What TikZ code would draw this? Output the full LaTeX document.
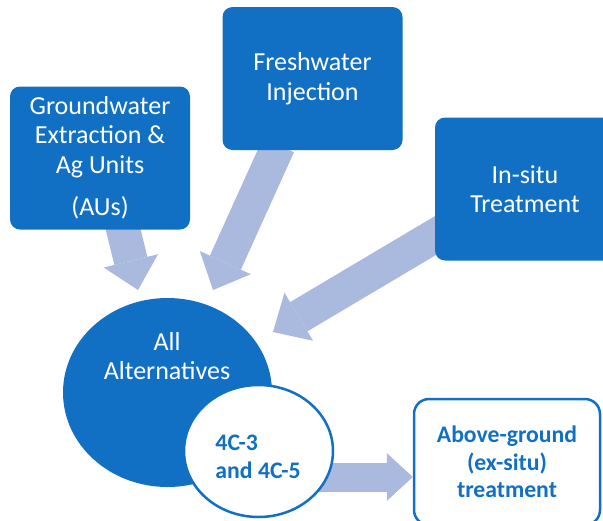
\documentclass[tikz,border=0pt]{standalone}
\usepackage{fontspec}
\setmainfont{Carlito}
\usetikzlibrary{arrows.meta, shapes.geometric, backgrounds}
\definecolor{boxblue}{RGB}{17,112,196}
\definecolor{flowblue}{RGB}{169,186,222}

\begin{document}
\begin{tikzpicture}[
        x=1pt, y=-1pt,
        box/.style={rectangle, rounded corners=10pt, fill=boxblue, text=white, align=center,
            minimum width=180pt, minimum height=143pt, font=\fontsize{26}{29.5}\selectfont},
        flow/.style={-{Triangle[length=30pt, width=56pt, line width=0pt]}, line width=34pt, draw=flowblue}
    ]

    \tikzset{
    outlined/.style={draw=boxblue, line width=2.5pt, fill=white, text=boxblue,
        font=\bfseries\fontsize{23.7}{27.5}\selectfont},
    smallflow/.style={-{Triangle[length=26pt, width=48pt, line width=0pt]}, line width=29pt, draw=flowblue}
}

    \useasboundingbox (0,0) rectangle (603,520);

    % the three sources
    \node[box] (gw) at (100,158) {Groundwater\\Extraction \&\\Ag Units\\[13pt](AUs)};
    \node[box] (fw) at (312.5,78.5) {Freshwater\\Injection};
    \node[box] (is) at (525,189) {In-situ\\Treatment};

    \coordinate (gwtip) at (138,290);
    \coordinate (fwtip) at (213,290);
    \coordinate (istip) at (273,332);

    \node[outlined, rectangle, rounded corners=15pt, align=center,
        minimum width=186pt, minimum height=126pt] (ag) at (507,462) {Above-ground\\(ex-situ)\\treatment};

    % the alternatives
    \node[ellipse, fill=boxblue, inner sep=0pt, minimum width=209pt, minimum height=189pt] (all) at (167.5,392.5) {};
    \node[text=white, align=center, font=\fontsize{26}{29.5}\selectfont] (alltext) at (167,356) {All\\Alternatives};
    \node[ellipse, outlined, inner sep=0pt, minimum width=149pt, minimum height=132pt] (sub) at (258.5,451) {};
    \node[text=boxblue, align=left, font=\bfseries\fontsize{23.7}{27.5}\selectfont] (subtext) at (258,457) {4C-3\\and 4C-5};

    \begin{scope}[on background layer]
    \draw[flow] ([xshift=22pt, yshift=5pt]gw.south) -- (gwtip);
    \draw[flow] ([xshift=-34pt, yshift=5pt]fw.south) -- (fwtip);
    \draw[flow] ([xshift=10pt, yshift=-41pt]is.west) -- (istip);
    \draw[smallflow] ([xshift=20pt, yshift=-26pt]sub.center) -- ([yshift=-15pt]ag.west);
    \end{scope}
\end{tikzpicture}
\end{document}
